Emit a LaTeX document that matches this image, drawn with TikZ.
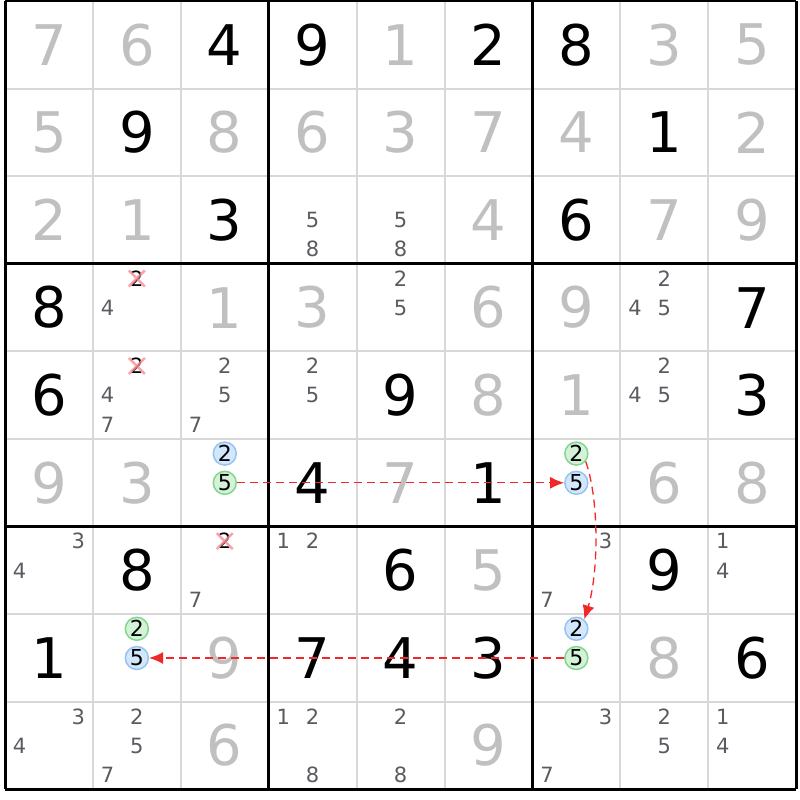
\documentclass[tikz,border=0pt]{standalone}
\usepackage{fontspec}
\setmainfont{DejaVu Sans}
\usetikzlibrary{arrows.meta}

\definecolor{solvedgray}{RGB}{192,192,192}
\definecolor{candgray}{RGB}{90,90,96}
\definecolor{thingray}{RGB}{216,216,216}
\definecolor{blueedge}{RGB}{150,196,240}
\definecolor{bluefill}{RGB}{210,230,252}
\definecolor{greenedge}{RGB}{130,215,140}
\definecolor{greenfill}{RGB}{212,242,216}
\definecolor{linkred}{RGB}{240,40,40}
\definecolor{crosspink}{RGB}{250,140,150}

\begin{document}
\begin{tikzpicture}[x=1pt,y=-1pt,
	every node/.style={inner sep=0pt},
	given/.style={text=black,font=\fontsize{56}{56}\selectfont},
	solved/.style={text=solvedgray,font=\fontsize{56}{56}\selectfont},
	cand/.style={text=candgray,font=\fontsize{21}{21}\selectfont},
	ringed/.style={circle,minimum size=23pt,line width=1.5pt,text=black,font=\fontsize{22}{22}\selectfont},
	bluering/.style={ringed,draw=blueedge,fill=bluefill},
	greenring/.style={ringed,draw=greenedge,fill=greenfill},
	struck/.style={text=black,font=\fontsize{21}{21}\selectfont},
	cross/.style={draw=crosspink,line width=2.5pt,opacity=0.8},
	link/.style={draw=linkred,line width=1.3pt,dash pattern=on 8pt off 5pt,-{Latex[length=14pt,width=12pt]}}]

	\useasboundingbox (0,0) rectangle (800,800);

	% grid
	\foreach \i in {1,2,4,5,7,8} {
		\draw[thingray,line width=2pt] ({5+\i*87.9},1) -- ({5+\i*87.9},789.4);
		\draw[thingray,line width=2pt] (5,{1+\i*87.6}) -- (796.1,{1+\i*87.6});
	}
	\foreach \i in {0,3,6,9} {
		\draw[black,line width=3pt] ({5+\i*87.9},1) -- ({5+\i*87.9},789.4);
		\draw[black,line width=3pt] (5,{1+\i*87.6}) -- (796.1,{1+\i*87.6});
	}

	% givens
	\foreach \r/\c/\d in {1/3/4,1/4/9,1/6/2,1/7/8,2/2/9,2/8/1,3/3/3,3/7/6,4/1/8,4/9/7,
			5/1/6,5/5/9,5/9/3,6/4/4,6/6/1,7/2/8,7/5/6,7/8/9,8/1/1,8/4/7,8/5/4,8/6/3,8/9/6}
		\node[given] (g\r\c) at ({5+(\c-0.5)*87.9},{1+(\r-0.5)*87.6}) {\d};

	% solved
	\foreach \r/\c/\d in {1/1/7,1/2/6,1/5/1,1/8/3,1/9/5,2/1/5,2/3/8,2/4/6,2/5/3,2/6/7,2/7/4,2/9/2,
			3/1/2,3/2/1,3/6/4,3/8/7,3/9/9,4/3/1,4/4/3,4/6/6,4/7/9,5/6/8,5/7/1,
			6/1/9,6/2/3,6/5/7,6/8/6,6/9/8,7/6/5,8/3/9,8/8/8,9/3/6,9/6/9}
		\node[solved] (s\r\c) at ({5+(\c-0.5)*87.9},{1+(\r-0.5)*87.6}) {\d};

	% candidates
	\foreach \r/\c/\d in {3/4/5,3/4/8,3/5/5,3/5/8,4/2/4,4/5/2,4/5/5,4/8/2,4/8/4,4/8/5,
			5/2/4,5/2/7,5/3/2,5/3/5,5/3/7,5/4/2,5/4/5,5/8/2,5/8/4,5/8/5,
			7/1/3,7/1/4,7/3/7,7/4/1,7/4/2,7/7/3,7/7/7,7/9/1,7/9/4,
			9/1/3,9/1/4,9/2/2,9/2/5,9/2/7,9/4/1,9/4/2,9/4/8,9/5/2,9/5/8,
			9/7/3,9/7/7,9/8/2,9/8/5,9/9/1,9/9/4} {
		\pgfmathsetmacro\px{5+(\c-1)*87.9+(mod(\d-1,3)+0.5)*29.3}
		\pgfmathsetmacro\py{1+(\r-1)*87.6+(floor((\d-1)/3)+0.5)*29.2}
		\node[cand] (c\r\c\d) at (\px,\py) {\d};
	}

	% eliminated
	\foreach \r/\c in {4/2,5/2,7/3} {
		\pgfmathsetmacro\px{5+(\c-0.5)*87.9}
		\pgfmathsetmacro\py{1+(\r-1)*87.6+14.6}
		\node[struck] (x\r\c) at (\px,\py) {2};
		\draw[cross] (x\r\c.center) +(-8,-8) -- +(8,8) +(-8,8) -- +(8,-8);
	}

	% chain
	\foreach \r/\c/\d/\look in {6/3/2/bluering,6/3/5/greenring,6/7/2/greenring,6/7/5/bluering,
			8/7/2/bluering,8/7/5/greenring,8/2/2/greenring,8/2/5/bluering} {
		\pgfmathsetmacro\px{5+(\c-0.5)*87.9}
		\pgfmathsetmacro\py{1+(\r-1)*87.6+(floor((\d-1)/3)+0.5)*29.2}
		\node[\look] (c\r\c\d) at (\px,\py) {\d};
	}

	\path[link] (c635) -- (c675);
	\path[link] (c672.-40) .. controls +(14,40) and +(14,-45) .. (c872.50);
	\path[link] (c875) -- (c825);
\end{tikzpicture}
\end{document}
